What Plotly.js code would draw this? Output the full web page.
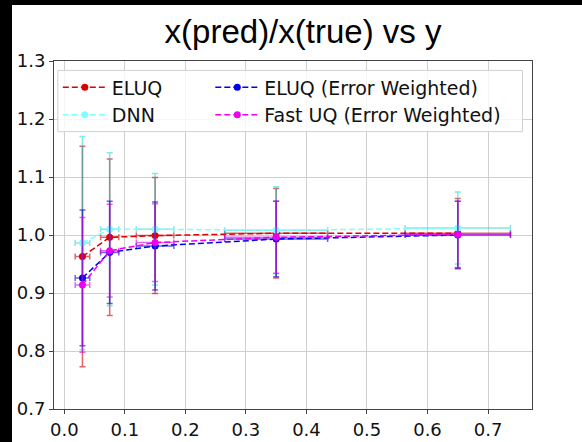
<!DOCTYPE html>
<html>
<head>
<meta charset="utf-8">
<script src="https://cdn.plot.ly/plotly-3.0.1.min.js"></script>
<style>
html, body { margin: 0; padding: 0; background: #000; width: 582px; height: 442px; overflow: hidden; }
#chart { position: absolute; left: 12px; top: 5px; width: 570px; height: 437px; background: #fff; }
</style>
</head>
<body>
<div id="chart"></div>
<script>
// Bin centres (y) and their spread
const xVals = [0.03, 0.075, 0.15, 0.35, 0.65];
const xErr = [0.012, 0.015, 0.031, 0.085, 0.087];

// ELUQ
const eluqY = [0.963, 0.996, 0.999, 1.003, 1.003];
const eluqErr = [0.19, 0.135, 0.1, 0.077, 0.06];
// DNN
const dnnY = [0.986, 1.01, 1.01, 1.008, 1.012];
const dnnErr = [0.184, 0.132, 0.096, 0.075, 0.062];
// ELUQ (Error Weighted)
const eluqEwY = [0.926, 0.970, 0.981, 0.993, 1.0];
const eluqEwErr = [0.117, 0.088, 0.076, 0.065, 0.058];
// Fast UQ (Error Weighted)
const fastY = [0.914, 0.973, 0.987, 0.996, 1.001];
const fastErr = [0.116, 0.08, 0.067, 0.062, 0.057];

const tickVals = [0.0, 0.1, 0.2, 0.3, 0.4, 0.5, 0.6, 0.7];
const yTickVals = [0.7, 0.8, 0.9, 1.0, 1.1, 1.2, 1.3];

function series(name, y, yerr, color, errColor, legendId) {
  return {
    type: 'scatter', mode: 'lines+markers', name: name,
    x: xVals, y: y, legend: legendId,
    line: {color: color, width: 1.5, dash: '6px,3px'},
    marker: {color: color, size: 7},
    error_y: {type: 'data', array: yerr, visible: true, color: errColor, thickness: 1.5, width: 3},
    error_x: {type: 'data', array: xErr, visible: true, color: errColor, thickness: 1.5, width: 3}
  };
}

const data = [
  series('ELUQ', eluqY, eluqErr, '#dd0000', 'rgba(200,0,0,0.6)', 'legend'),
  series('DNN', dnnY, dnnErr, '#80ffff', 'rgba(0,210,210,0.5)', 'legend'),
  series('ELUQ (Error Weighted)', eluqEwY, eluqEwErr, '#0000ee', 'rgba(0,0,220,0.6)', 'legend2'),
  series('Fast UQ (Error Weighted)', fastY, fastErr, '#ee00ee', 'rgba(220,0,220,0.6)', 'legend2')
];

const axisCommon = {
  showgrid: true, gridcolor: '#cfcfcf', gridwidth: 1,
  showline: true, mirror: true, linecolor: '#444', linewidth: 1,
  ticks: 'outside', ticklen: 4, tickcolor: '#444', tickwidth: 1,
  zeroline: false, tickformat: '.1f',
  tickfont: {family: 'DejaVu Sans', size: 18, color: '#111'}
};

const legendFont = {family: 'DejaVu Sans', size: 19, color: '#111'};

const layout = {
  width: 570, height: 437,
  margin: {l: 42, r: 50, t: 56, b: 33},
  paper_bgcolor: '#fff', plot_bgcolor: '#fff',
  title: {
    text: 'x(pred)/x(true) vs y',
    font: {family: 'Liberation Sans', size: 33, color: '#000'},
    xref: 'paper', x: 0.521, xanchor: 'center',
    yref: 'container', y: 0.94, yanchor: 'middle'
  },
  xaxis: Object.assign({}, axisCommon, {range: [-0.017, 0.7726], tickvals: tickVals}),
  yaxis: Object.assign({}, axisCommon, {range: [0.7, 1.3], tickvals: yTickVals}),
  showlegend: true,
  // legend frame (two columns share one box)
  shapes: [{
    type: 'rect', xref: 'paper', yref: 'paper', layer: 'above',
    x0: 0.008, x1: 0.98, y0: 0.797, y1: 0.973,
    fillcolor: 'rgba(255,255,255,0.8)', line: {color: '#d0d0d0', width: 1}
  }],
  legend: {
    x: 0.008, y: 0.979, xanchor: 'left', yanchor: 'top', itemwidth: 44,
    bgcolor: 'rgba(0,0,0,0)', borderwidth: 0, font: legendFont
  },
  legend2: {
    x: 0.327, y: 0.979, xanchor: 'left', yanchor: 'top', itemwidth: 44,
    bgcolor: 'rgba(0,0,0,0)', borderwidth: 0, font: legendFont
  }
};

Plotly.newPlot('chart', data, layout, {displayModeBar: false, staticPlot: true});
</script>
</body>
</html>
